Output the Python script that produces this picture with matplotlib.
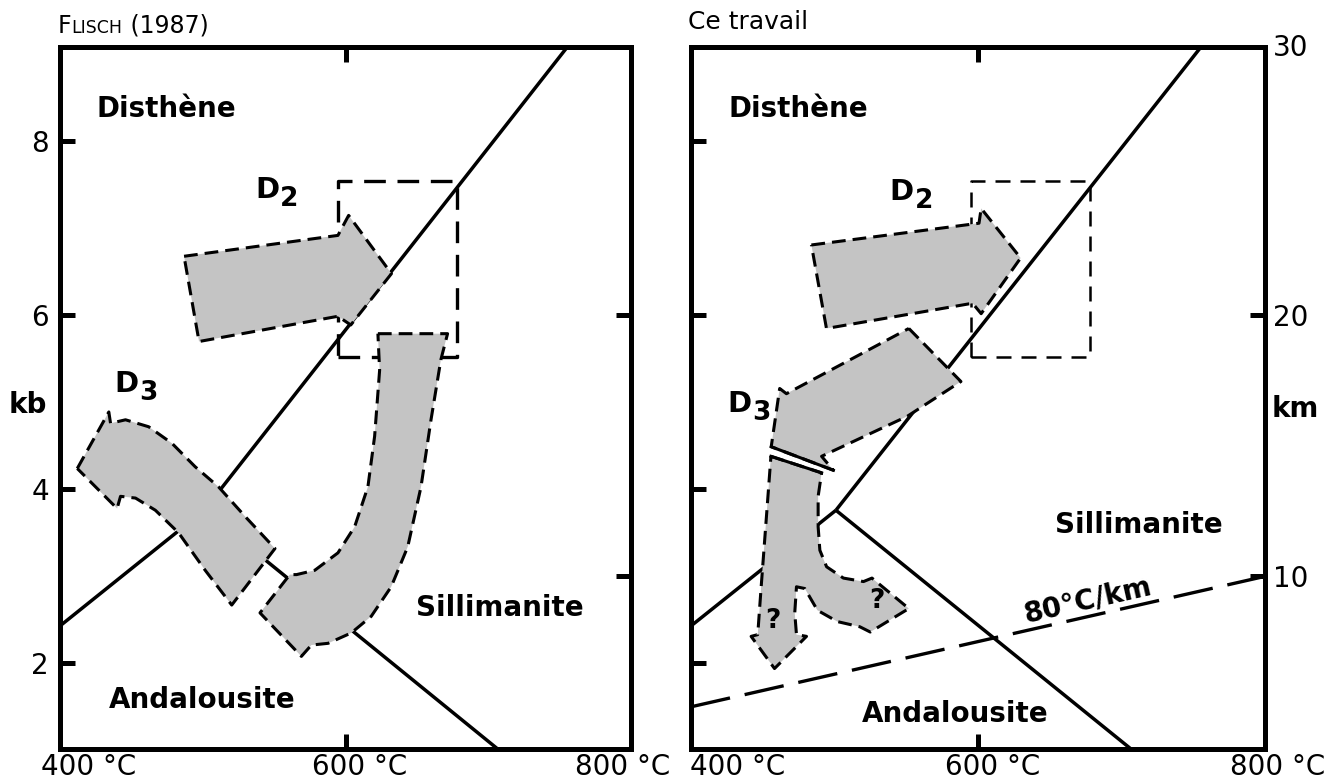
import numpy as np
import matplotlib.pyplot as plt
from matplotlib.transforms import blended_transform_factory
from matplotlib.offsetbox import TextArea, HPacker, AnnotationBbox

plt.rcParams['font.family'] = ['DejaVu Sans']

# ---------------- data (T en °C, P en kb) ----------------
temp_ticks = [400, 600, 800]
temp_labels = ['400 °C', '600 °C', '800 °C']
kb_ticks = [2, 4, 6, 8]
km_ticks = [10, 20]

# courbes de reaction (point triple)
ky_and_T = [400, 501]
ky_and_P = [2.43, 3.76]
ky_sil_T = [501, 757]
ky_sil_P = [3.76, 9.12]
and_sil_T = [501, 707]
and_sil_P = [3.76, 1.01]

# gradient 80°C/km
geo_T = [400, 800]
geo_P = [1.5, 3.0]

# rectangle en tirets
box_T = [595, 678]
box_P = [5.52, 7.55]

# Flisch (1987)
d2_left_T = [486.9, 594.7, 602.2, 632.2, 603.7, 594.7, 497.4]
d2_left_P = [6.68, 6.92, 7.15, 6.48, 5.89, 5.99, 5.70]

d3_left_T = [412.1, 434.2, 435.4, 445.9, 462.1, 478.4, 494.7, 511.0, 529.6, 550.6,
             520.3, 501.7, 483.1, 466.8, 452.9, 442.4, 440.0]
d3_left_P = [4.24, 4.89, 4.76, 4.80, 4.72, 4.53, 4.26, 4.03, 3.69, 3.32,
             2.67, 3.07, 3.50, 3.76, 3.90, 3.92, 3.78]

j_left_T = [622.7, 671.5, 666.8, 659.9, 652.9, 643.6, 632.0, 618.0, 604.1, 587.8, 576.1,
            569.1, 540.1, 561.0, 565.7, 578.5, 594.7, 606.4, 615.7, 620.4, 623.9]
j_left_P = [5.79, 5.79, 5.49, 4.80, 4.03, 3.34, 2.88, 2.54, 2.35, 2.23, 2.21,
            2.08, 2.58, 3.02, 3.02, 3.07, 3.27, 3.57, 4.03, 4.61, 5.37]

# Ce travail
d2_right_T = [483.9, 600.7, 602.2, 629.7, 602.2, 596.2, 494.4]
d2_right_P = [6.81, 7.06, 7.23, 6.66, 6.02, 6.14, 5.85]

d3_up_T = [551.8, 588.1, 550.7, 491.0, 499.2, 455.9, 461.8, 466.5]
d3_up_P = [5.85, 5.24, 4.84, 4.38, 4.22, 4.49, 5.16, 5.10]

stem_T = [455.7, 491.0, 488.6, 488.6, 489.8, 494.5, 506.2, 520.2, 526.1, 551.8, 524.9,
          517.7, 502.0, 488.1, 479.3, 473.5, 472.3, 473.5, 480.5, 458.2, 441.9, 446.5,
          448.9, 452.4]
stem_P = [4.38, 4.19, 3.92, 3.57, 3.30, 3.11, 2.98, 2.94, 2.98, 2.63, 2.36,
          2.42, 2.48, 2.61, 2.86, 2.88, 2.58, 2.33, 2.31, 1.94, 2.31, 2.33,
          2.88, 3.65]

GREY = '#c4c4c4'
PX = 0.72  # points par pixel (dpi 100)

fig = plt.figure(figsize=(13.37, 7.83), dpi=100)
W, H = 1337, 783
axL = fig.add_axes([60 / W, 1 - 749 / H, 571 / W, 702 / H])
axR = fig.add_axes([691 / W, 1 - 749 / H, 574 / W, 702 / H])


def forme(ax, T, P, lw=2.2):
    ax.fill(T, P, facecolor=GREY, edgecolor='none', zorder=3)
    ax.plot(list(T) + [T[0]], list(P) + [P[0]], color='k', lw=lw,
            ls=(0, (4.5, 2.3)), dash_capstyle='butt', zorder=4)


def label_D(ax, T, P, sub):
    ax.text(T, P, 'D', fontsize=21, fontweight='bold', ha='left', va='baseline', zorder=6)
    ax.annotate(sub, xy=(T, P), xytext=(25 * PX, -8 * PX), textcoords='offset points',
                fontsize=19, fontweight='bold', ha='left', va='baseline', zorder=6)


def cadre(ax, offs, box_lw, box_ls):
    ax.set_xlim(400, 800)
    ax.set_ylim(1.015, 9.086)
    for s in ax.spines.values():
        s.set_linewidth(3.6)
    ax.set_xticks([600])
    ax.tick_params(axis='x', direction='in', top=True, bottom=True, labelbottom=False,
                   length=10.8, width=3.6)
    ax.set_yticks(kb_ticks)
    ax.tick_params(axis='y', direction='in', length=10.8, width=3.6, labelsize=20, pad=8)
    # lignes de reaction
    for T, P in [(ky_and_T, ky_and_P), (ky_sil_T, ky_sil_P), (and_sil_T, and_sil_P)]:
        ax.plot(T, P, color='k', lw=2.5, solid_capstyle='butt', zorder=2)
    # rectangle
    ax.plot([box_T[0], box_T[1], box_T[1], box_T[0], box_T[0]],
            [box_P[0], box_P[0], box_P[1], box_P[1], box_P[0]],
            color='k', lw=box_lw, ls=box_ls, zorder=2)
    # axe en km
    sec = ax.secondary_yaxis('right', functions=(lambda p: p * 10 / 3, lambda k: k * 0.3))
    sec.set_yticks(km_ticks)
    sec.tick_params(direction='in', length=10.8, width=3.6, labelsize=20, pad=6)
    sec.spines['right'].set_visible(False)
    # etiquettes de temperature
    tr = blended_transform_factory(ax.transData, ax.transAxes)
    for t, lab, dx in zip(temp_ticks, temp_labels, offs):
        ax.annotate(lab, xy=(t, 0), xycoords=tr, xytext=(dx * PX, -26 * PX),
                    textcoords='offset points', ha='left', va='baseline', fontsize=20,
                    annotation_clip=False)
    return sec


# ---------------- panneau gauche ----------------
secL = cadre(axL, [-19, -34, -56], 2.4, (0, (6.5, 3.5)))
secL.tick_params(labelright=False)
forme(axL, d2_left_T, d2_left_P)
forme(axL, d3_left_T, d3_left_P)
forme(axL, j_left_T, j_left_P)

axL.text(425.3, 8.28, 'Disthène', fontsize=20, fontweight='bold', va='baseline', zorder=6)
axL.text(649.6, 2.54, 'Sillimanite', fontsize=20, fontweight='bold', va='baseline', zorder=6)
axL.text(434.4, 1.49, 'Andalousite', fontsize=20, fontweight='bold', va='baseline', zorder=6)
label_D(axL, 536.8, 7.35, '2')
label_D(axL, 437.9, 5.12, '3')
axL.text(-0.022, 4.88, 'kb', transform=blended_transform_factory(axL.transAxes, axL.transData),
         fontsize=20, fontweight='bold', ha='right', va='baseline')

titre = HPacker(children=[TextArea('F', textprops=dict(fontsize=17)),
                          TextArea('LISCH', textprops=dict(fontsize=12.5)),
                          TextArea(' (1987)', textprops=dict(fontsize=17))],
                align='baseline', pad=0, sep=0)
axL.add_artist(AnnotationBbox(titre, (0, 1), xycoords='axes fraction', box_alignment=(0, 0),
                              xybox=(-2 * PX, 9 * PX), boxcoords='offset points',
                              frameon=False, annotation_clip=False))

# ---------------- panneau droit ----------------
secR = cadre(axR, [-1, -33, -35], 1.8, (0, (6, 4)))
axR.tick_params(axis='y', labelleft=False)
axR.plot(geo_T, geo_P, color='k', lw=2.4, ls=(0, (12, 4.5)), zorder=2)
forme(axR, d2_right_T, d2_right_P)
forme(axR, d3_up_T, d3_up_P)
forme(axR, stem_T, stem_P)
# coupure blanche entre les deux fleches D3
axR.plot(d3_up_T[4:6], d3_up_P[4:6], color='k', lw=2.2, zorder=5)
axR.plot(stem_T[0:2], stem_P[0:2], color='k', lw=2.2, zorder=5)

axR.text(426.0, 8.28, 'Disthène', fontsize=20, fontweight='bold', va='baseline', zorder=6)
axR.text(653.4, 3.50, 'Sillimanite', fontsize=20, fontweight='bold', va='baseline', zorder=6)
axR.text(519.3, 1.33, 'Andalousite', fontsize=20, fontweight='bold', va='baseline', zorder=6)
label_D(axR, 538.3, 7.33, '2')
label_D(axR, 425.3, 4.89, '3')
axR.text(456.8, 2.49, '?', fontsize=19, fontweight='bold', ha='center', va='center', zorder=6)
axR.text(529.8, 2.72, '?', fontsize=19, fontweight='bold', ha='center', va='center', zorder=6)

p1 = axR.transData.transform((geo_T[0], geo_P[0]))
p2 = axR.transData.transform((geo_T[1], geo_P[1]))
ang = np.degrees(np.arctan2(p2[1] - p1[1], p2[0] - p1[0]))
axR.text(676.5, 2.73, '80°C/km', fontsize=20, fontweight='bold', rotation=ang,
         rotation_mode='anchor', ha='center', va='center', zorder=6)

axR.text(1.012, 4.83, 'km', transform=blended_transform_factory(axR.transAxes, axR.transData),
         fontsize=20, fontweight='bold', ha='left', va='baseline')
axR.annotate('30', xy=(1, 1), xycoords='axes fraction', xytext=(8 * PX, -1 * PX),
             textcoords='offset points', ha='left', va='center', fontsize=20,
             annotation_clip=False)
axR.annotate('Ce travail', xy=(0, 1), xycoords='axes fraction', xytext=(-3 * PX, 18 * PX),
             textcoords='offset points', ha='left', va='baseline', fontsize=18,
             annotation_clip=False)

fig.savefig('out.png', dpi=100)
